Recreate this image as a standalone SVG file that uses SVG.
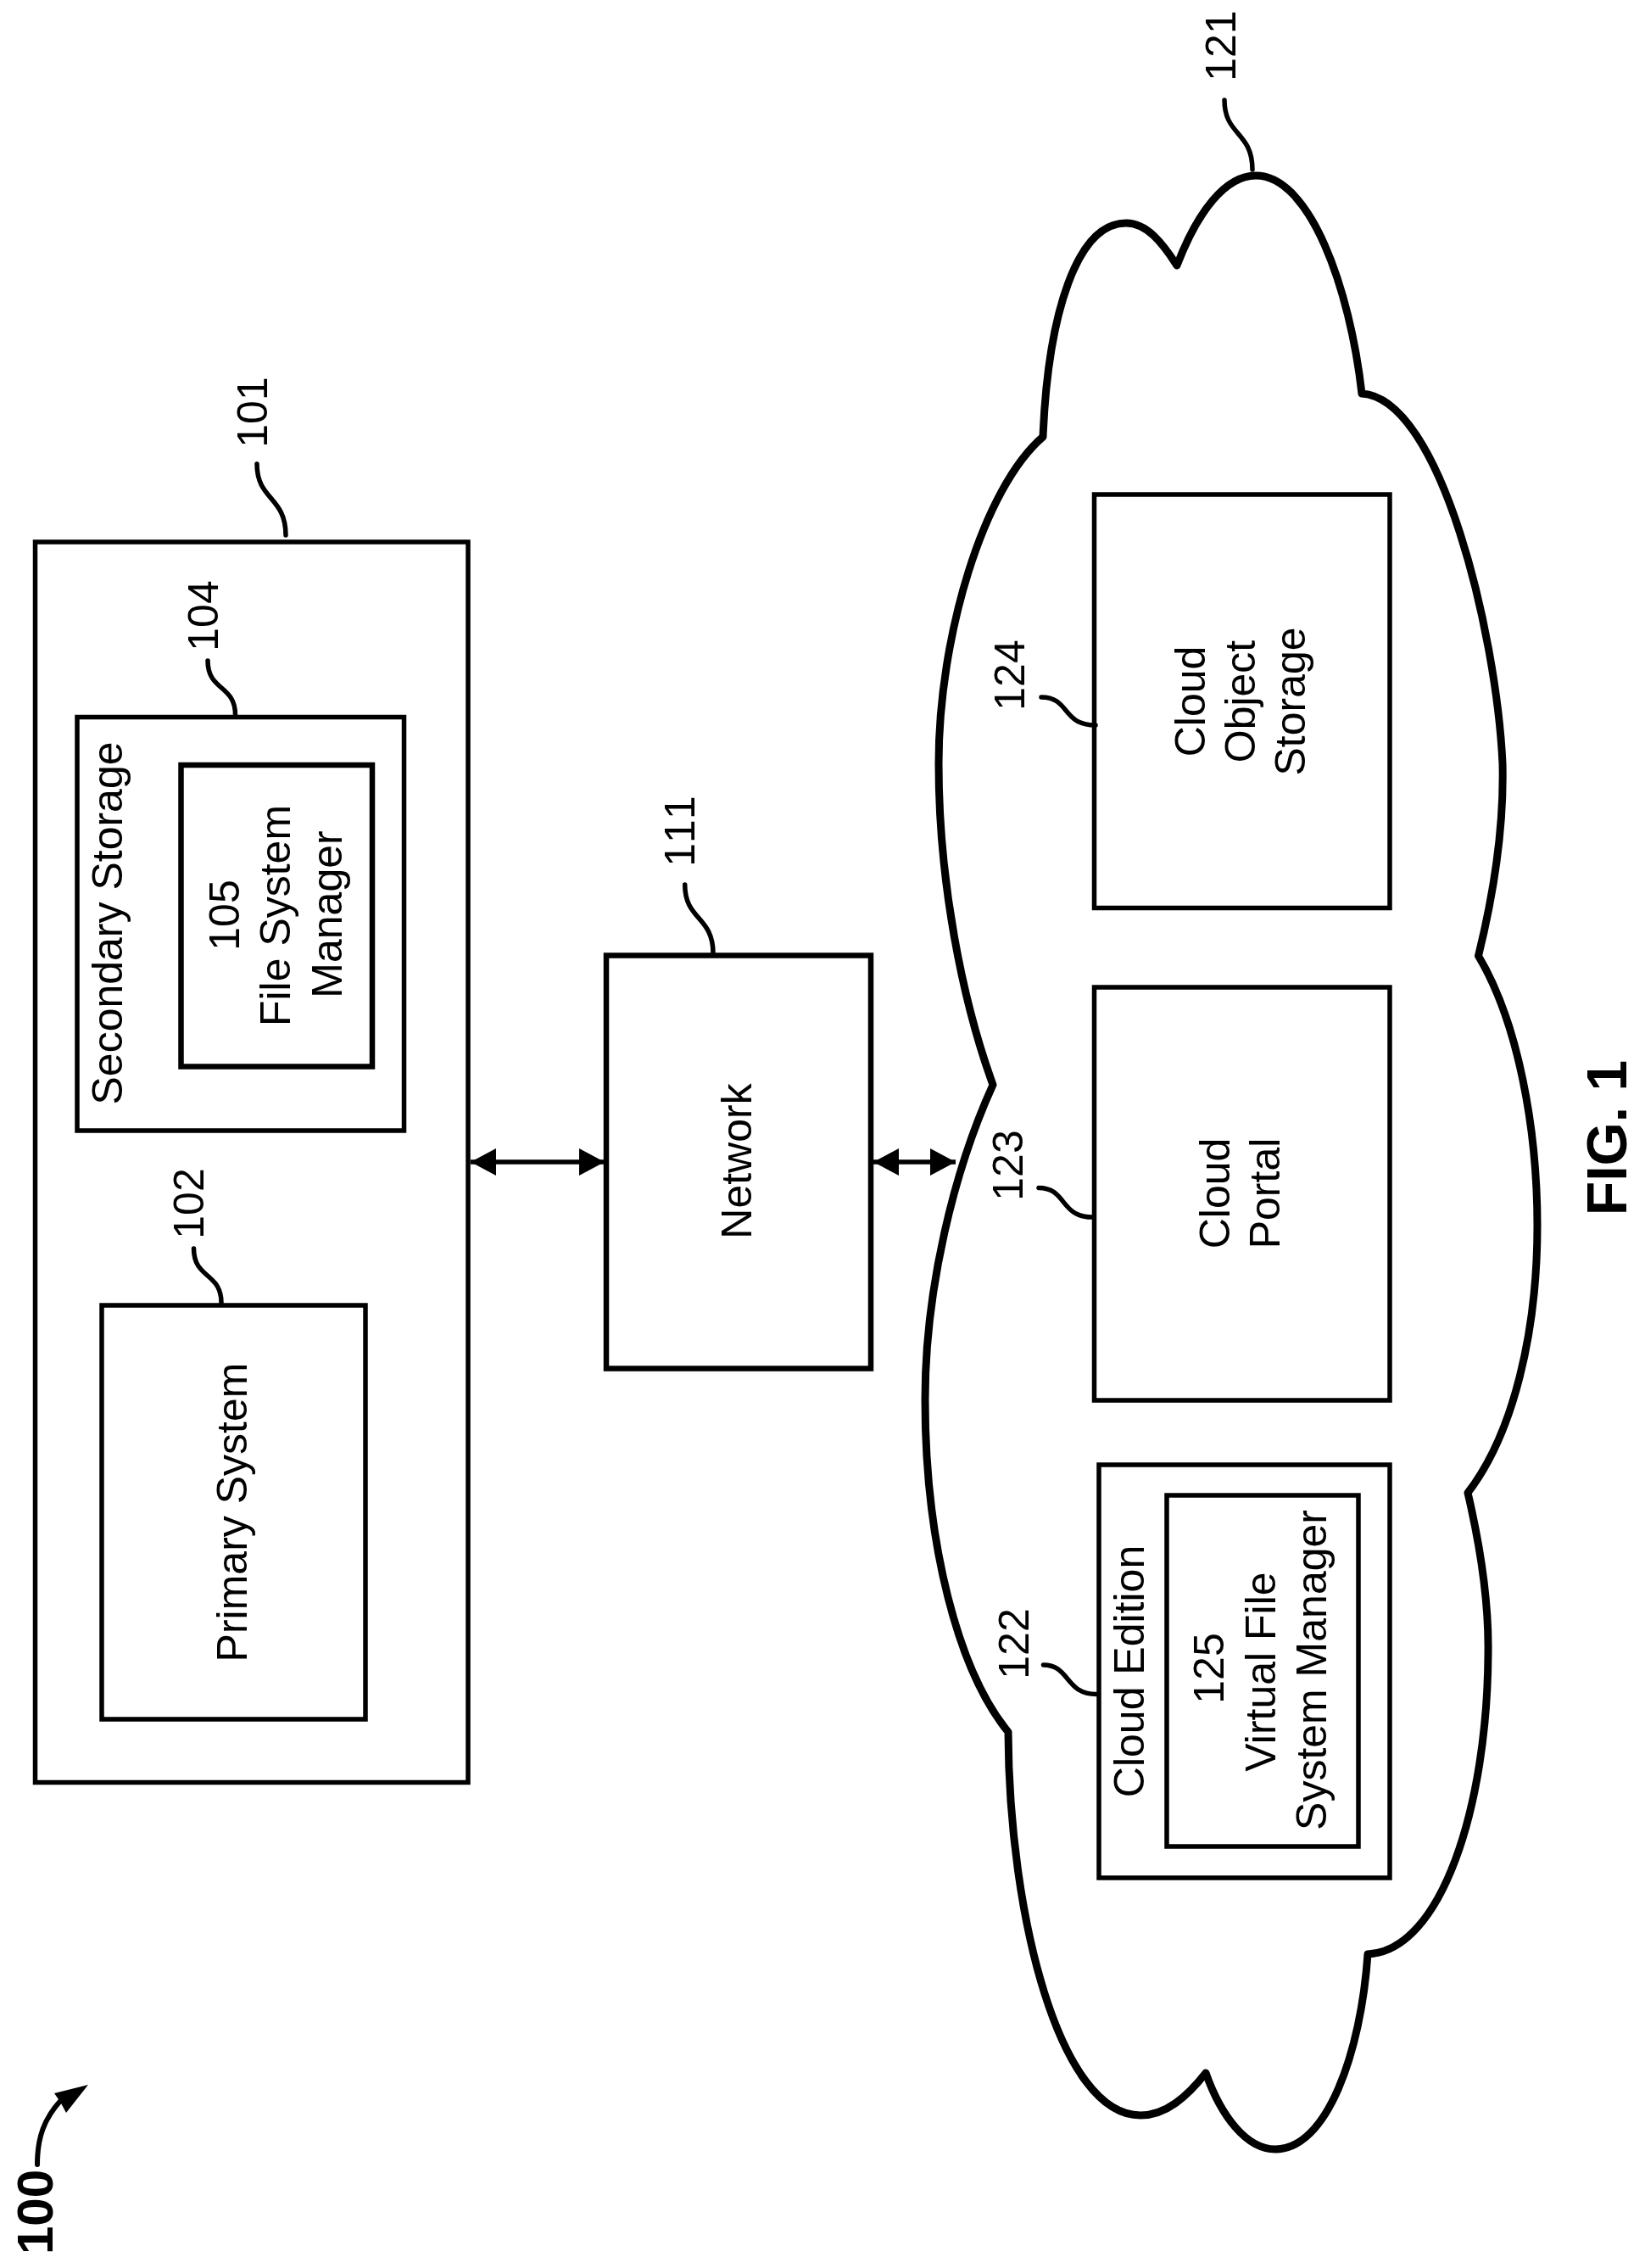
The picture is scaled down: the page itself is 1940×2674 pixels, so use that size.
<svg xmlns="http://www.w3.org/2000/svg" width="1940" height="2674" viewBox="0 0 1940 2674">
<style>
.box{fill:none;stroke:#000;stroke-width:5.5;stroke-linejoin:miter}
.thick{stroke-width:6.5}
.lead{fill:none;stroke:#000;stroke-width:5.5;stroke-linecap:round}
.link{fill:none;stroke:#000;stroke-width:5.5}
.cloud{fill:none;stroke:#000;stroke-width:9;stroke-linejoin:round}
text{font-family:"Liberation Sans",Arial,sans-serif;font-size:50px;fill:#000;text-anchor:middle}
.b{font-weight:bold}
.nk{font-kerning:none}
</style>
<defs>
<marker id="head" markerUnits="userSpaceOnUse" markerWidth="30" markerHeight="32" refX="30" refY="16" orient="auto-start-reverse"><path d="M0,0L30,16L0,32Z" fill="#000"/></marker>
</defs>
<rect width="1940" height="2674" fill="#fff"/>
<g id="ref-100">
<text class="b" style="font-size:60px" transform="translate(62 2608) rotate(-90)">100</text>
<path d="M44,2552C44,2520 52,2498 72,2476" fill="none" stroke="#000" stroke-width="6" stroke-linecap="round"/>
<polygon points="104,2458 64,2468 71,2478 78,2491" fill="#000"/>
</g>
<g id="node-101">
<rect class="box" x="41.5" y="639" width="510.5" height="1462.5"/>
<text transform="translate(314.6 486) rotate(-90)">101</text>
<path class="lead" d="M303,547C303,590 337,585 337,631"/>
</g>
<g id="node-102">
<rect class="box" x="120" y="1539" width="311" height="488"/>
<text transform="translate(291 1783) rotate(-90)">Primary System</text>
<text transform="translate(240 1419) rotate(-90)">102</text>
<path class="lead" d="M228.5,1472C228.5,1508 261,1500 261,1536"/>
</g>
<g id="node-104">
<rect class="box" x="91" y="845.5" width="385.5" height="487.5"/>
<text transform="translate(144 1088.5) rotate(-90)">Secondary Storage</text>
<text transform="translate(257 726) rotate(-90)">104</text>
<path class="lead" d="M245,779C245,815 277.5,807 277.5,843"/>
</g>
<g id="node-105">
<rect class="box thick" x="213.5" y="902" width="225.5" height="355.5"/>
<text transform="translate(282 1079) rotate(-90)">105</text>
<text transform="translate(342 1079.5) rotate(-90)">File System</text>
<text transform="translate(402.6 1078) rotate(-90)">Manager</text>
</g>
<g id="node-111">
<rect class="box thick" x="715" y="1126.5" width="312" height="487"/>
<text transform="translate(886 1369) rotate(-90)">Network</text>
<text class="nk" transform="translate(819 980) rotate(-90)">111</text>
<path class="lead" d="M807.7,1043C807.7,1085 841,1080 841,1124"/>
</g>
<g id="node-121">
<path class="cloud" d="M1388,313C1412,250 1445,207 1481,207C1545,207 1592,340 1606,464C1700,470 1765,750 1772,900C1774,980 1760,1060 1743.5,1127C1790,1205 1813,1330 1813,1445C1813,1570 1785,1690 1731,1760C1745,1820 1756,1890 1755,1950C1754,2130 1700,2300 1613,2304C1605,2420 1565,2534 1504,2534C1470,2534 1440,2495 1422,2444C1400,2472 1375,2494 1345,2494C1250,2494 1190,2260 1189,2042C1130,1970 1091,1820 1091,1650C1091,1520 1125,1380 1171,1279C1135,1180 1107,1040 1107,900C1107,750 1160,575 1230,515C1236,370 1270,263 1328,263C1352,263 1370,285 1388,313Z"/>
<text transform="translate(1457 54) rotate(-90)">121</text>
<path class="lead" d="M1444,118C1444,160 1477,155 1477,200"/>
</g>
<g id="node-122">
<rect class="box" x="1296" y="1727" width="343" height="487"/>
<text transform="translate(1349 1970.5) rotate(-90)">Cloud Edition</text>
<text transform="translate(1213 1938) rotate(-90)">122</text>
<path class="lead" d="M1230.5,1963C1262,1963 1256,1997.5 1293,1997.5"/>
</g>
<g id="node-125">
<rect class="box" x="1376" y="1763" width="226" height="414"/>
<text transform="translate(1443 1967) rotate(-90)">125</text>
<text transform="translate(1504 1971) rotate(-90)">Virtual File</text>
<text transform="translate(1563.6 1969) rotate(-90)">System Manager</text>
</g>
<g id="node-123">
<rect class="box" x="1290.5" y="1164" width="348.5" height="487"/>
<text transform="translate(1450 1407) rotate(-90)">Cloud</text>
<text transform="translate(1508.6 1407) rotate(-90)">Portal</text>
<text transform="translate(1206 1374) rotate(-90)">123</text>
<path class="lead" d="M1225,1400.5C1258,1400.5 1250,1435 1288,1435"/>
</g>
<g id="node-124">
<rect class="box" x="1290.5" y="583" width="348.5" height="487.5"/>
<text transform="translate(1420.6 827) rotate(-90)">Cloud</text>
<text transform="translate(1480 827) rotate(-90)">Object</text>
<text transform="translate(1539 827) rotate(-90)">Storage</text>
<text transform="translate(1208 796) rotate(-90)">124</text>
<path class="lead" d="M1228,822C1262,822 1252,855 1292,855"/>
</g>
<g id="connectors">
<line class="link" x1="555" y1="1370" x2="713" y2="1370" marker-start="url(#head)" marker-end="url(#head)"/>
<line class="link" x1="1030" y1="1370" x2="1127" y2="1370" marker-start="url(#head)" marker-end="url(#head)"/>
</g>
<g id="caption">
<text class="b" style="font-size:66px" transform="translate(1918 1341.5) rotate(-90)">FIG. 1</text>
</g>
</svg>
